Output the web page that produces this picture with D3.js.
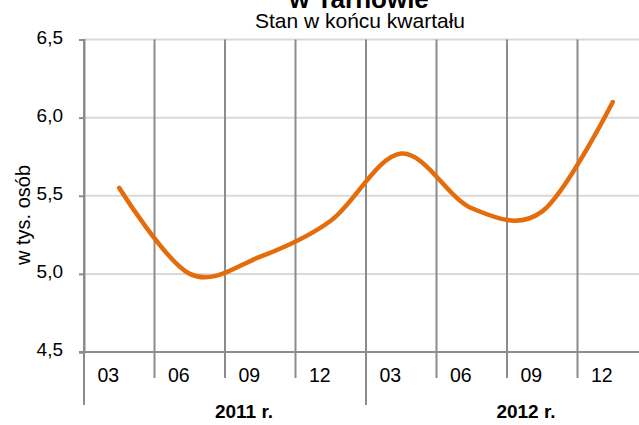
<!DOCTYPE html>
<html>
<head>
<meta charset="utf-8">
<script src="https://cdn.jsdelivr.net/npm/d3@7"></script>
<style>
  html, body { margin: 0; padding: 0; background: #fff; }
  svg { display: block; font-family: Arial, "Liberation Sans", sans-serif; }
</style>
</head>
<body>
<div id="chart"></div>
<script>
// quarters (end of quarter), two years
const quarters = ['03', '06', '09', '12', '03', '06', '09', '12'];
const years = ['2011 r.', '2012 r.'];
const values = [5.55, 5.00, 5.11, 5.34, 5.77, 5.42, 5.40, 6.10];
const yTicks = [4.5, 5.0, 5.5, 6.0, 6.5];

const width = 639;
const height = 425;
const margin = { top: 39.5, right: -9, bottom: 73, left: 84 };

const svg = d3.select('#chart')
  .append('svg')
  .attr('width', width)
  .attr('height', height);

const x = d3.scaleBand()
  .domain(d3.range(quarters.length))
  .range([margin.left, width - margin.right])
  .padding(0);

const y = d3.scaleLinear()
  .domain([4.5, 6.5])
  .range([height - margin.bottom, margin.top]);

const fmt = d => d3.format('.1f')(d).replace('.', ',');

// horizontal grid
svg.append('g')
  .selectAll('line')
  .data(yTicks.slice(1))
  .enter()
  .append('line')
  .attr('x1', margin.left)
  .attr('x2', width)
  .attr('y1', d => y(d))
  .attr('y2', d => y(d))
  .attr('stroke', '#d9d9d9')
  .attr('stroke-width', 2);

// vertical grid at category boundaries
const bounds = d3.range(quarters.length + 1).map(i => margin.left + i * x.step());
svg.append('g')
  .selectAll('line')
  .data(bounds)
  .enter()
  .append('line')
  .attr('x1', d => d)
  .attr('x2', d => d)
  .attr('y1', y(6.5))
  .attr('y2', (d, i) => (i % 4 === 0 ? 405 : y(4.5) + 26))
  .attr('stroke', '#8c8c8c')
  .attr('stroke-width', 2);

// bottom axis line
svg.append('line')
  .attr('x1', margin.left - 5)
  .attr('x2', width)
  .attr('y1', y(4.5))
  .attr('y2', y(4.5))
  .attr('stroke', '#8c8c8c')
  .attr('stroke-width', 2);

// y axis
const yAxis = svg.append('g')
  .attr('transform', `translate(${margin.left},0)`)
  .call(d3.axisLeft(y).tickValues(yTicks).tickSize(5).tickPadding(16).tickFormat(fmt));
yAxis.select('.domain').attr('stroke', '#8c8c8c').attr('stroke-width', 2);
yAxis.selectAll('.tick line').attr('stroke', '#8c8c8c').attr('stroke-width', 2);
yAxis.selectAll('.tick text')
  .attr('fill', '#000')
  .attr('font-size', '19px')
  .attr('dy', '0.2em');

// quarter labels
svg.append('g')
  .selectAll('text')
  .data(quarters)
  .enter()
  .append('text')
  .attr('x', (d, i) => x(i) + x.bandwidth() / 2 - 11)
  .attr('y', 382)
  .attr('text-anchor', 'middle')
  .attr('font-size', '19.5px')
  .attr('fill', '#000')
  .text(d => d);

// year labels
svg.append('g')
  .selectAll('text')
  .data(years)
  .enter()
  .append('text')
  .attr('x', (d, i) => x(i * 4) + x.step() * 2 + 19)
  .attr('y', 418)
  .attr('text-anchor', 'middle')
  .attr('font-size', '19px')
  .attr('font-weight', 'bold')
  .attr('fill', '#000')
  .text(d => d);

// y axis title
svg.append('text')
  .attr('transform', 'rotate(-90)')
  .attr('x', -215)
  .attr('y', 30)
  .attr('text-anchor', 'middle')
  .attr('font-size', '20px')
  .attr('fill', '#000')
  .text('w tys. osób');

// titles
svg.append('text')
  .attr('x', 359)
  .attr('y', 8)
  .attr('text-anchor', 'middle')
  .attr('font-size', '26px')
  .attr('font-weight', 'bold')
  .attr('fill', '#000')
  .text('w Tarnowie');

svg.append('text')
  .attr('x', 360)
  .attr('y', 28)
  .attr('text-anchor', 'middle')
  .attr('font-size', '21px')
  .attr('fill', '#000')
  .text('Stan w końcu kwartału');

// smoothed line
const line = d3.line()
  .x((d, i) => x(i) + x.bandwidth() / 2)
  .y(d => y(d))
  .curve(d3.curveCardinal.tension(0));

svg.append('path')
  .datum(values)
  .attr('d', line)
  .attr('fill', 'none')
  .attr('stroke', '#e46c0a')
  .attr('stroke-width', 4.5)
  .attr('stroke-linecap', 'round')
  .attr('stroke-linejoin', 'round');
</script>
</body>
</html>
